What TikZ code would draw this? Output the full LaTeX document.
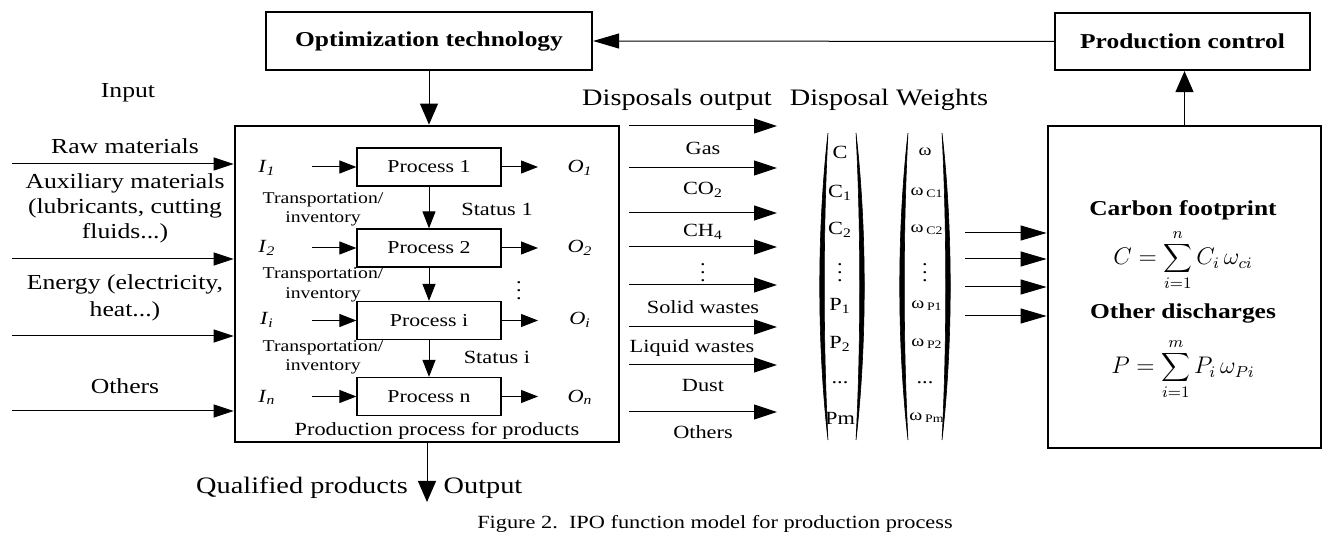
\documentclass[tikz,border=0pt]{standalone}
\usepackage{fontspec}
\setmainfont{Liberation Serif}[FakeStretch=1.2]
\usetikzlibrary{arrows.meta}
\begin{document}
\begin{tikzpicture}[x=0.5pt,y={(0,-0.5pt)},
  big/.style={font=\fontsize{11.8}{14}\selectfont, align=center, inner sep=0pt},
  inl/.style={font=\fontsize{10.7}{12.5}\selectfont, align=center, inner sep=0pt},
  mid/.style={font=\fontsize{9.3}{11}\selectfont, align=center, inner sep=0pt},
  small/.style={font=\fontsize{8.2}{9.75}\selectfont, align=center, inner sep=0pt},
  boldt/.style={font=\fontsize{10.6}{13}\selectfont\bfseries, align=center, inner sep=0pt},
  arr/.style={-{Triangle[length=10pt,width=6.5pt]}, line width=0.5pt},
  parr/.style={-{Triangle[length=8.5pt,width=6.5pt]}, line width=0.5pt},
  bigarr/.style={-{Triangle[length=11.5pt,width=7.5pt]}, line width=0.5pt},
  rarr/.style={-{Triangle[length=13pt,width=7.5pt]}, line width=0.5pt},
  varr/.style={-{Triangle[length=10.5pt,width=9pt]}, line width=0.5pt},
  pbox/.style={draw, line width=0.6pt, minimum width=72pt, minimum height=19pt, inner sep=0pt, font=\fontsize{9.1}{11}\selectfont},
  frame/.style={draw, line width=1.1pt, inner sep=0pt},
  paren/.style={fill=black, draw=black, line width=0.3pt}
]
\useasboundingbox (0,0) rectangle (1334,539);

% top boxes
\node[frame, minimum width=163pt, minimum height=29pt, font=\fontsize{10.6}{13}\selectfont\bfseries] (opt) at (429,41) {Optimization technology};
\node[frame, minimum width=127.5pt, minimum height=28.5pt, font=\fontsize{10.6}{13}\selectfont\bfseries] (ctrl) at (1182.5,41.5) {Production control};

% main box and right box
\node[frame, line width=1.4pt, minimum width=192pt, minimum height=158pt] (main) at (427,284) {};
\node[frame, line width=1.4pt, minimum width=136.5pt, minimum height=161pt] (rbox) at (1184.5,287) {};

\draw[rarr] (ctrl.west) -- (opt.east);
\draw[varr] (opt.south) -- (opt.south |- main.north);
\draw[varr] (rbox.north) -- (rbox.north |- ctrl.south);

% inputs
\node[inl] (tin) at (128,93) {Input};
\node[inl] (traw) at (125,146) {Raw materials};
\node[inl] (taux) at (125,208) {Auxiliary materials\\(lubricants, cutting\\fluids...)};
\node[inl, font=\fontsize{10.7}{13.5}\selectfont] (tene) at (125,298) {Energy (electricity,\\heat...)};
\node[inl] (toth) at (125,386) {Others};
\coordinate (in1) at (12,164);
\coordinate (in2) at (12,259);
\coordinate (in3) at (12,336);
\coordinate (in4) at (12,411);
\foreach \c in {in1,in2,in3,in4} \draw[arr] (\c) -- (\c -| main.west);

% processes
\node[pbox] (p1) at (429,167) {Process 1};
\node[pbox] (p2) at (429,248) {Process 2};
\node[pbox] (pi) at (429,320.5) {Process i};
\node[pbox] (pn) at (429,396.5) {Process n};
\draw[parr] (p1) -- (p2);
\draw[parr] (p2) -- (pi);
\draw[parr] (pi) -- (pn);

\node[mid] (i1) at (267,168) {\textit{I}\textsubscript{\textit{1}}};
\node[mid] (i2) at (267,248) {\textit{I}\textsubscript{\textit{2}}};
\node[mid] (ii) at (267,320) {\textit{I}\textsubscript{\textit{i}}};
\node[mid] (in) at (267,397) {\textit{I}\textsubscript{\textit{n}}};
\node[mid] (o1) at (580,168) {\textit{O}\textsubscript{\textit{1}}};
\node[mid] (o2) at (580,248) {\textit{O}\textsubscript{\textit{2}}};
\node[mid] (oi) at (580,320) {\textit{O}\textsubscript{\textit{i}}};
\node[mid] (on) at (580,397) {\textit{O}\textsubscript{\textit{n}}};

\coordinate (ia1) at (312,167);
\coordinate (ia2) at (312,248);
\coordinate (ia3) at (312,320.5);
\coordinate (ia4) at (312,396.5);
\coordinate (oa1) at (538,167);
\coordinate (oa2) at (538,248);
\coordinate (oa3) at (538,320.5);
\coordinate (oa4) at (538,396.5);
\draw[parr] (ia1) -- (p1.west);
\draw[parr] (ia2) -- (p2.west);
\draw[parr] (ia3) -- (pi.west);
\draw[parr] (ia4) -- (pn.west);
\draw[parr] (p1.east) -- (oa1);
\draw[parr] (p2.east) -- (oa2);
\draw[parr] (pi.east) -- (oa3);
\draw[parr] (pn.east) -- (oa4);

\node[small] (t1) at (323,209.5) {Transportation/\\inventory};
\node[small] (t2) at (323,285) {Transportation/\\inventory};
\node[small] (t3) at (323,357.5) {Transportation/\\inventory};
\node[mid] (s1) at (497,209) {Status 1};
\node[mid] (sd) at (519,285) {\vdots};
\node[mid] (si) at (497,357) {Status i};
\node[mid] (ppp) at (437,431) {Production process for products};

% output
\coordinate (outend) at (427,502);
\draw[varr] (main.south) -- (outend);
\node[big] (qp) at (302,488) {Qualified products};
\node[big] (op) at (483,488) {Output};

% disposals
\node[big] (dout) at (677,100) {Disposals output};
\node[big] (dw) at (889,100) {Disposal Weights};
\foreach \n/\y in {1/126,2/168,3/213,4/247,5/285,6/327,7/365,8/412} {
  \coordinate (ds\n) at (629,\y);
  \coordinate (de\n) at (777,\y);
  \draw[bigarr] (ds\n) -- (de\n);
}
\node[mid] (lgas) at (703,148) {Gas};
\node[mid] (lco2) at (703,190) {CO\textsubscript{2}};
\node[mid] (lch4) at (703,232) {CH\textsubscript{4}};
\node[mid] (ldots) at (703,267) {\vdots};
\node[mid] (lsol) at (703,307) {Solid wastes};
\node[mid] (lliq) at (692,348) {Liquid wastes};
\node[mid] (ldust) at (703,386) {Dust};
\node[mid] (loth) at (703,432) {Others};

% columns
\node[mid] (c0) at (840,152) {C};
\node[mid] (c1) at (840,193) {C\textsubscript{1}};
\node[mid] (c2) at (840,230) {C\textsubscript{2}};
\node[mid] (c3) at (840,267) {\vdots};
\node[mid] (c4) at (840,306) {P\textsubscript{1}};
\node[mid] (c5) at (840,344) {P\textsubscript{2}};
\node[mid] (c6) at (840,383) {...};
\node[mid] (c7) at (840,418) {Pm};

\node[small] (w0) at (925,152) {ω};
\node[small] (w1) at (927,193) {ω\,\textsubscript{C1}};
\node[small] (w2) at (927,230) {ω\,\textsubscript{C2}};
\node[mid] (w3) at (925,267) {\vdots};
\node[small] (w4) at (927,306) {ω\,\textsubscript{P1}};
\node[small] (w5) at (927,344) {ω\,\textsubscript{P2}};
\node[mid] (w6) at (925,383) {...};
\node[small] (w7) at (927,418) {ω\,\textsubscript{Pm}};

% parentheses
\path[paren] (828,133) .. controls (817,230) and (817,343) .. (828,440) .. controls (823,343) and (823,230) .. (828,133) -- cycle;
\path[paren] (856,133) .. controls (867,230) and (867,343) .. (856,440) .. controls (861,343) and (861,230) .. (856,133) -- cycle;
\path[paren] (908,133) .. controls (897,230) and (897,343) .. (908,440) .. controls (903,343) and (903,230) .. (908,133) -- cycle;
\path[paren] (942,133) .. controls (953,230) and (953,343) .. (942,440) .. controls (947,343) and (947,230) .. (942,133) -- cycle;

% arrows into right box
\foreach \n/\y in {1/233,2/259,3/287,4/316} {
  \coordinate (r\n) at (965,\y);
  \draw[rarr] (r\n) -- (r\n -| rbox.west);
}

% right box content
\node[boldt] (cf) at (1183,210) {Carbon footprint};
\node[inner sep=0pt, font=\fontsize{12}{14}\selectfont] (cfor) at (1183,260) {$\displaystyle C=\sum_{i=1}^{n} C_i\,\omega_{ci}$};
\node[boldt] (od) at (1183,313) {Other discharges};
\node[inner sep=0pt, font=\fontsize{12}{14}\selectfont] (pfor) at (1183,369) {$\displaystyle P=\sum_{i=1}^{m} P_i\,\omega_{Pi}$};

% caption
\node[inner sep=0pt, font=\fontsize{9.3}{11}\selectfont] (cap) at (715,524) {Figure 2.\ \ IPO function model for production process};
\end{tikzpicture}
\end{document}
